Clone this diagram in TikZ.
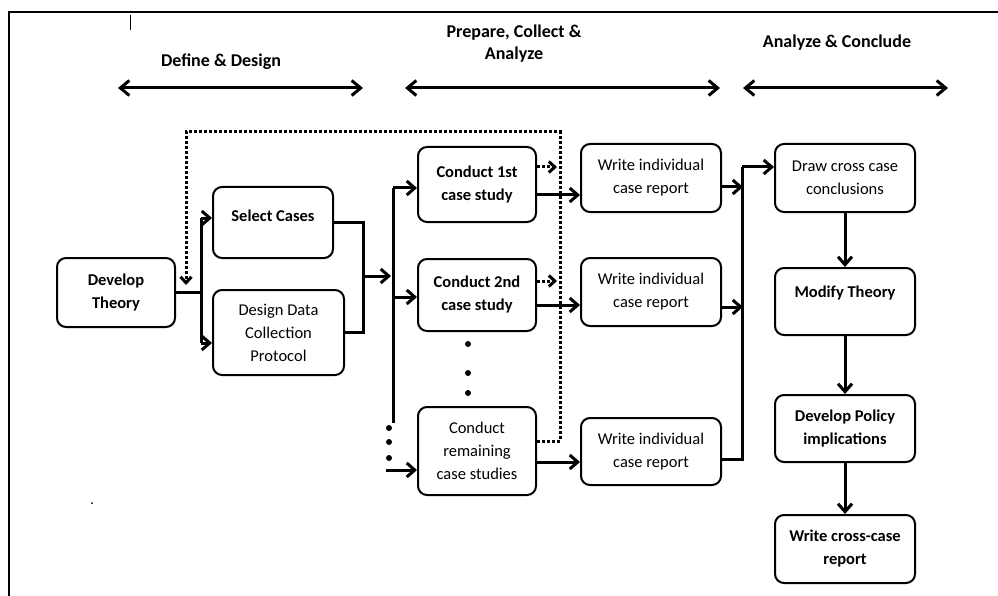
\documentclass[tikz,border=0pt]{standalone}
\usepackage{fontspec}
\setmainfont{Carlito}
\usetikzlibrary{arrows.meta}
\begin{document}
\begin{tikzpicture}[x=1pt,y=-1pt,
  box/.style={draw, line width=2pt, rounded corners=9pt, inner sep=0pt, align=center, font=\fontsize{16.5}{23}\selectfont},
  bbox/.style={box, font=\bfseries\fontsize{16.5}{23}\selectfont},
  btext/.style={inner sep=0pt, align=center, font=\bfseries\fontsize{16.5}{23}\selectfont},
  conn/.style={line width=3pt, -{Straight Barb[length=8pt,width=14pt]}},
  lineseg/.style={line width=3pt},
  fb/.style={line width=3pt, dash pattern=on 2.6pt off 2.4pt},
  fbarr/.style={fb, -{Straight Barb[length=6pt,width=11pt]}},
  harr/.style={line width=3pt, {Straight Barb[length=9pt,width=15pt]}-{Straight Barb[length=9pt,width=15pt]}},
  hdr/.style={inner sep=0pt, align=center, font=\bfseries\fontsize{18}{22}\selectfont}
]
\useasboundingbox (0,0) rectangle (998,596);
% frame
\draw[line width=2.4pt] (9,596) -- (9,12) -- (998,12);
\draw[line width=0.9pt] (130,15) -- (130,30);
\fill (92,503) circle (1pt);
% headers
\node[hdr] (h1) at (221,62) {Define \& Design};
\node[hdr] (h2) at (514,44) {Prepare, Collect \&\\Analyze};
\node[hdr] (h3) at (837,43) {Analyze \& Conclude};
\coordinate (h1l) at (118,88); \coordinate (h1r) at (363,88);
\coordinate (h2l) at (405,88); \coordinate (h2r) at (720,88);
\coordinate (h3l) at (743,88); \coordinate (h3r) at (948,88);
\draw[harr] (h1l) -- (h1r);
\draw[harr] (h2l) -- (h2r);
\draw[harr] (h3l) -- (h3r);
% boxes
\node[bbox, minimum width=118pt, minimum height=69pt] (dt) at (116,292.5) {Develop\\Theory};
\node[bbox, minimum width=120pt, minimum height=71pt] (sc) at (273,222.5) {};
\node[btext] (sct) at (273,216) {Select Cases};
\node[box, minimum width=131pt, minimum height=85pt] (dd) at (278.5,332.5) {Design Data\\Collection\\Protocol};
\node[bbox, minimum width=118pt, minimum height=75pt] (c1) at (477,184.5) {Conduct 1st\\case study};
\node[bbox, minimum width=118pt, minimum height=72pt] (c2) at (477,295) {Conduct 2nd\\case study};
\node[box, minimum width=118pt, minimum height=88pt] (cr) at (477,451) {Conduct\\remaining\\case studies};
\node[box, minimum width=140pt, minimum height=68pt] (w1) at (651,178) {Write individual\\case report};
\node[box, minimum width=140pt, minimum height=68pt] (w2) at (651,292) {Write individual\\case report};
\node[box, minimum width=140pt, minimum height=67pt] (w3) at (651,451.5) {Write individual\\case report};
\node[box, minimum width=140pt, minimum height=68pt] (dc) at (845,178) {Draw cross case\\conclusions};
\node[bbox, minimum width=140pt, minimum height=67pt] (mt) at (845,301.5) {};
\node[btext] (mtt) at (845,293) {Modify Theory};
\node[bbox, minimum width=140pt, minimum height=67pt] (dp) at (845,428.5) {Develop Policy\\implications};
\node[bbox, minimum width=140pt, minimum height=68pt] (wc) at (845,549) {Write cross-case\\report};
% define & design connectors
\coordinate (b1t) at (201,218); \coordinate (b1b) at (201,343);
\draw[lineseg] (dt.east) -- (dt.east -| b1t);
\draw[lineseg] (b1t) -- (b1b);
\draw[conn] (b1t) -- (b1t -| sc.west);
\draw[conn] (b1b) -- (b1b -| dd.west);
\coordinate (b2t) at (363,222.5); \coordinate (b2b) at (363,332.5);
\draw[lineseg] (sc.east) -- (b2t) -- (b2b) -- (dd.east);
\coordinate (b2m) at (363,276); \coordinate (a3) at (391,276);
\draw[conn] (b2m) -- (a3);
% case study fan-out
\coordinate (b3t) at (393,188); \coordinate (b3b) at (393,423);
\draw[lineseg] (b3t) -- (b3b);
\draw[conn] (b3t) -- (b3t -| c1.west);
\coordinate (b3m) at (393,297);
\draw[conn] (b3m) -- (b3m -| c2.west);
\coordinate (b3e) at (386,470);
\draw[conn] (b3e) -- (b3e -| cr.west);
\foreach \yy in {428,442,458} \fill (389,\yy) circle (3pt);
\foreach \yy in {344,373,393} \fill (468,\yy) circle (3pt);
% to reports
\draw[conn] (c1.east |- 0,195) -- (w1.west |- 0,195);
\draw[conn] (c2.east |- 0,305) -- (w2.west |- 0,305);
\draw[conn] (cr.east |- 0,462) -- (w3.west |- 0,462);
% feedback dotted
\draw[fbarr] (c1.east |- 0,167) -- (557,167);
\draw[fbarr] (c2.east |- 0,281) -- (557,281);
\coordinate (fbc1) at (560,441); \coordinate (fbc2) at (560,132);
\coordinate (fbc3) at (186,132); \coordinate (fbe) at (186,285);
\draw[fbarr] (cr.east |- fbc1) -- (fbc1) -- (fbc2) -- (fbc3) -- (fbe);
% reports to conclusions
\coordinate (b4t) at (742,167); \coordinate (b4b) at (742,459);
\draw[conn] (w1.east |- 0,187) -- (743,187);
\draw[conn] (w2.east |- 0,307) -- (743,307);
\draw[lineseg] (w3.east |- b4b) -- (b4b) -- (b4t);
\draw[conn] (b4t) -- (b4t -| dc.west);
\draw[conn] (dc.south) -- (mt.north);
\draw[conn] (mt.south) -- (dp.north);
\draw[conn] (dp.south) -- (wc.north);
\end{tikzpicture}
\end{document}
